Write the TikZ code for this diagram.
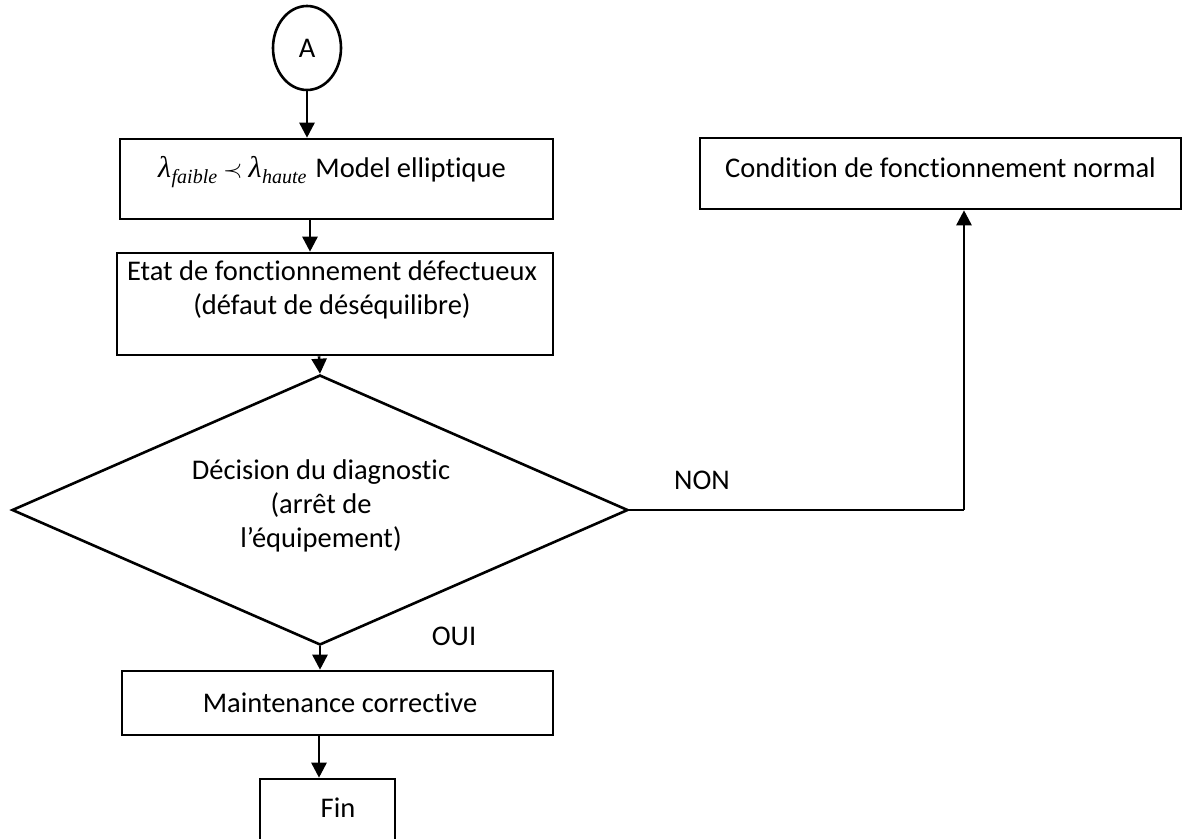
\documentclass[tikz,border=0pt]{standalone}
\usepackage{fontspec}
\setmainfont{Carlito}[RawFeature={-liga;-clig;-dlig;-calt}]
\newfontfamily\tms{Liberation Serif}
\usetikzlibrary{arrows.meta,shapes.geometric}
% lambda with a lowered italic index, serif face
\newcommand{\lamidx}[1]{{\tms\itshape\fontsize{30}{32}\selectfont λ\kern0.5pt\raisebox{-6pt}{\fontsize{20}{22}\selectfont #1}}}
\begin{document}
\begin{tikzpicture}[x=1pt,y=-1pt,
  every node/.style={font=\fontsize{28.5}{34}\selectfont},
  box/.style={draw,line width=2.6pt,rectangle,inner sep=0pt},
  txt/.style={align=center,inner sep=0pt},
  arr/.style={line width=2.6pt,-{Triangle[width=15pt,length=15pt]}},
  conn/.style={line width=2.6pt}]
\useasboundingbox (0,0) rectangle (1198,838);

% start connector
\node[draw,ellipse,line width=2.6pt,minimum width=68pt,minimum height=84pt,inner sep=0pt] (A) at (307,48) {A};

% process boxes
\node[box,minimum width=433pt,minimum height=80pt] (b1) at (336.5,179) {};
\node[txt] (t1) at (332,172) {\lamidx{faible}\hspace{6pt}{\fontsize{26}{30}\selectfont$\prec$}\hspace{6pt}\lamidx{haute}\hspace{9pt}Model elliptique};

\node[box,minimum width=436pt,minimum height=102pt] (b2) at (335,304) {};
\node[txt] (t2) at (332,290) {Etat de fonctionnement défectueux\\(défaut de déséquilibre)};

% decision
\node[draw,diamond,line width=2.6pt,minimum width=616pt,minimum height=270pt,inner sep=0pt] (d) at (320,510) {};
\node[txt] (td) at (321,506) {Décision du diagnostic\\(arrêt de\\l’équipement)};

\node[box,minimum width=481pt,minimum height=71pt] (cn) at (940.5,173.5) {};
\node[txt] (tcn) at (940.5,168) {Condition de fonctionnement normal};

\node[box,minimum width=431pt,minimum height=64pt] (m) at (337.5,703) {};
\node[txt] (tm) at (340,703) {Maintenance corrective};

\node[box,minimum width=135pt,minimum height=80pt] (f) at (327.5,819) {};
\node[txt] (tf) at (338,808) {Fin};

% labels
\node[txt] (non) at (702,480) {NON};
\node[txt] (oui) at (454,636) {OUI};

% connectors
\draw[arr] (A.south) -- (A.south |- b1.north);
\draw[arr] (b1.south -| 310,0) -- (b2.north -| 310,0);
\draw[arr] (b2.south -| 319,0) -- (d.north);
\coordinate (k) at (964,0 |- d.east);
\draw[conn] (d.east) -- (k);
\draw[arr] (k) -- (k |- cn.south);
\draw[arr] (d.south) -- (d.south |- m.north);
\draw[arr] (m.south -| 319,0) -- (f.north -| 319,0);
\end{tikzpicture}
\end{document}
